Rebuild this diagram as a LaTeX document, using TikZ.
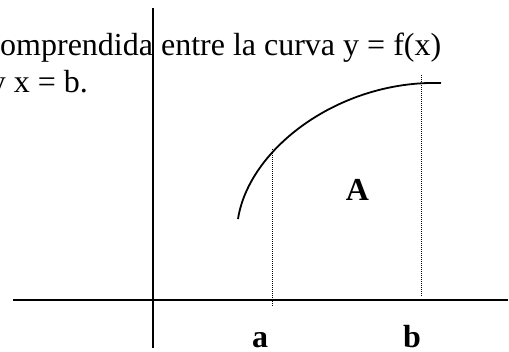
\documentclass[tikz,border=0pt]{standalone}
\usepackage{fontspec}
\setmainfont{Liberation Serif}
\begin{document}
\begin{tikzpicture}[x=1pt,y=-1pt,
  axis/.style={line width=1.7pt},
  curveline/.style={line width=1.8pt},
  guide/.style={line width=1pt, dash pattern=on 1pt off 1pt},
  txt/.style={inner sep=0pt, font=\fontsize{32}{36}\selectfont},
  lbl/.style={inner sep=0pt, text depth=0pt, font=\fontsize{32}{36}\selectfont\bfseries}]
\useasboundingbox (0,0) rectangle (509,351);
\clip (0,0) rectangle (509,351);
% text
\node[txt, anchor=base west] (t1) at (0,55) {omprendida entre la curva y = f(x)};
\node[txt, anchor=base east] (t2) at (88,92) {y x = b.};
% axes
\coordinate (xl) at (13,300);
\coordinate (xr) at (508,300);
\coordinate (yt) at (153,8);
\coordinate (yb) at (153,348);
\draw[axis] (xl) -- (xr);
\draw[axis] (yt) -- (yb);
% curve
\coordinate (c0) at (238,219);
\coordinate (c3) at (441,83);
\draw[curveline] (c0) .. controls (249,148) and (340,80) .. (c3);
% guides
\coordinate (at) at (272,149);
\coordinate (ab) at (272,307);
\coordinate (bt) at (421,75);
\coordinate (bb) at (421,297);
\draw[guide] (at) -- (ab);
\draw[guide] (bt) -- (bb);
% labels
\node[lbl, anchor=base] (la) at (260,347) {a};
\node[lbl, anchor=base] (lb) at (412,347) {b};
\node[lbl, anchor=base] (lA) at (357.5,200) {A};
\end{tikzpicture}
\end{document}
